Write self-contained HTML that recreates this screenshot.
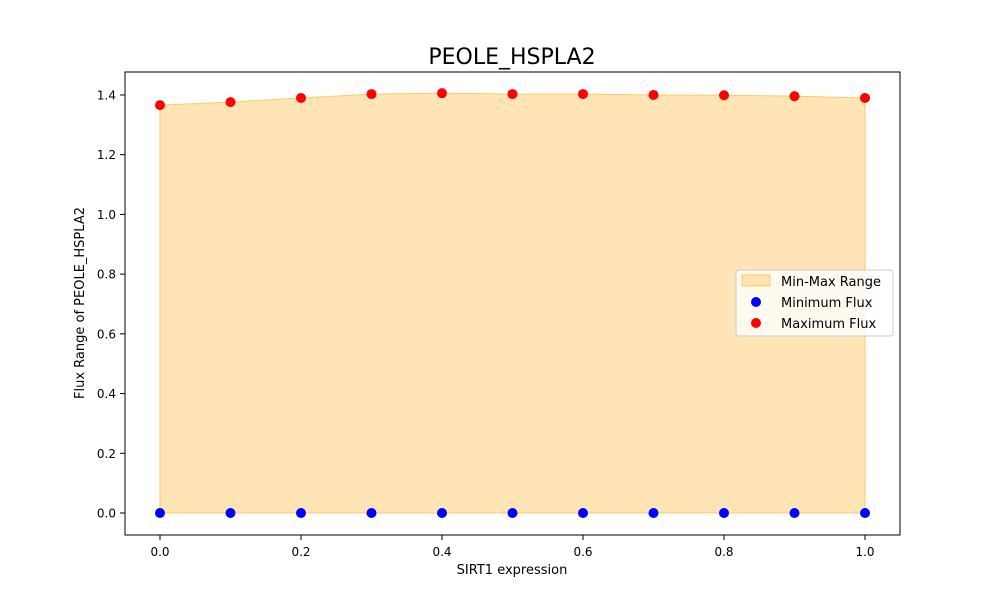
<!DOCTYPE html>
<html><head><meta charset="utf-8"><style>
body{margin:0;background:#fff;}
svg{display:block;font-family:"DejaVu Sans","Liberation Sans",sans-serif;}
</style></head><body>
<svg id="chart" width="1000" height="600">
<rect width="1000" height="600" fill="#fff"/>
<text x="512" y="64" text-anchor="middle" font-size="22" fill="#000">PEOLE_HSPLA2</text>
<g id="plot"></g>
<rect x="125" y="72" width="775" height="463" fill="none" stroke="#000" stroke-width="1"/>
<text x="512" y="574" text-anchor="middle" font-size="13">SIRT1 expression</text>
<text transform="translate(84,303) rotate(-90)" text-anchor="middle" font-size="13">Flux Range of PEOLE_HSPLA2</text>
<g>
<rect x="736" y="270" width="157" height="66" rx="3" fill="#fff" fill-opacity="0.8" stroke="#ccc"/>
<rect x="742" y="275" width="28" height="11" fill="#ffd58f" fill-opacity="0.65" stroke="#ffc96b"/>
<text x="781" y="286" font-size="13">Min-Max Range</text>
<circle cx="756" cy="302" r="5" fill="#0000ff"/>
<text x="781" y="307" font-size="13">Minimum Flux</text>
<circle cx="756" cy="323" r="5" fill="#ff0000"/>
<text x="781" y="328" font-size="13">Maximum Flux</text>
</g>
</svg>
<script>
const xValues=[0,0.1,0.2,0.3,0.4,0.5,0.6,0.7,0.8,0.9,1.0];
const minFlux=[0,0,0,0,0,0,0,0,0,0,0];
const maxFlux=[1.366,1.376,1.390,1.403,1.406,1.403,1.403,1.400,1.399,1.396,1.390];
const xTicks=[0,0.2,0.4,0.6,0.8,1.0];
const yTicks=[0,0.2,0.4,0.6,0.8,1.0,1.2,1.4];
const NS="http://www.w3.org/2000/svg";
const sx=v=>160+v*705;
const sy=v=>513-v*298.6;
const g=document.getElementById('plot');
function mk(t,a){const e=document.createElementNS(NS,t);for(const k in a)e.setAttribute(k,a[k]);g.appendChild(e);return e;}
let pts=xValues.map((x,i)=>sx(x)+','+sy(maxFlux[i]));
for(let i=xValues.length-1;i>=0;i--)pts.push(sx(xValues[i])+','+sy(minFlux[i]));
const poly=mk('polygon',{points:pts.join(' '),fill:'#ffd58f','fill-opacity':'0.65',stroke:'#ffc96b','stroke-width':'1'});


xValues.forEach((x,i)=>{
const c=mk('circle',{cx:sx(x),cy:sy(minFlux[i]),r:5,fill:'#0000ff'});


const d=mk('circle',{cx:sx(x),cy:sy(maxFlux[i]),r:5,fill:'#ff0000'});


});
xTicks.forEach(t=>{
const l=mk('line',{x1:sx(t),x2:sx(t),y1:535,y2:540,stroke:'#000'});


const tx=mk('text',{x:sx(t),y:556,'text-anchor':'middle','font-size':'12'});
tx.textContent=t.toFixed(1);


});
yTicks.forEach(t=>{
const l=mk('line',{x1:120,x2:125,y1:sy(t),y2:sy(t),stroke:'#000'});


const tx=mk('text',{x:116,y:sy(t)+4.5,'text-anchor':'end','font-size':'12'});
tx.textContent=t.toFixed(1);


});
</script>
</body></html>
